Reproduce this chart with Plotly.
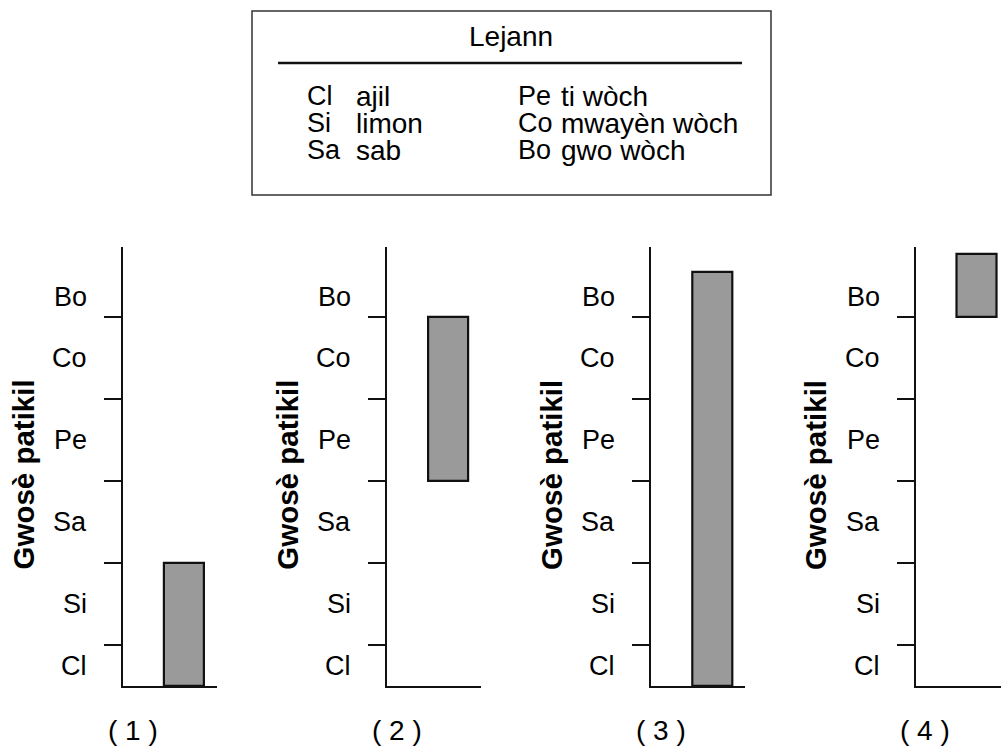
import plotly.graph_objects as go

# ---- data ----
classes = ["Cl", "Si", "Sa", "Pe", "Co", "Bo"]
class_names = ["ajil", "limon", "sab", "ti wòch", "mwayèn wòch", "gwo wòch"]
label_pos = [0.25, 1, 2, 3, 4, 4.75]        # where class labels sit on the size scale
boundaries = [0.5, 1.5, 2.5, 3.5, 4.5]      # class boundaries (tick marks)
panels = ["( 1 )", "( 2 )", "( 3 )", "( 4 )"]
bar_bottom = [0, 2.5, 0, 4.5]
bar_top = [1.5, 4.5, 5.05, 5.27]
y_title = "Gwosè patikil"
legend_title = "Lejann"

W, H = 1001, 748
FONT = "Liberation Sans, Arial, sans-serif"


def px_x(x):
    return x / W


def px_y(y):
    return 1 - y / H


fig = go.Figure()

axis0 = 123.0
step = 264.2
panel_w = 94.0
y_bot_px, y_top_px = 686.0, 247.0
unit = 82.0
y_max = (y_bot_px - y_top_px) / unit

annotations = []
for i in range(4):
    ax_px = axis0 + step * i
    right_px = min(ax_px + panel_w, W)
    xr = (right_px - ax_px) / panel_w
    sfx = "" if i == 0 else str(i + 1)
    fig.add_trace(go.Bar(
        x=[0.65], y=[bar_top[i] - bar_bottom[i]], base=[bar_bottom[i]],
        width=0.43,
        marker=dict(color="#9a9a9a", line=dict(color="#111111", width=2.2)),
        xaxis="x" + sfx, yaxis="y" + sfx, showlegend=False, hoverinfo="skip",
    ))
    fig.layout["xaxis" + sfx] = dict(
        domain=[px_x(ax_px), px_x(right_px)], range=[0, xr], anchor="y" + sfx,
        showline=True, linecolor="#111111", linewidth=2, showgrid=False,
        zeroline=False, showticklabels=False, ticks="", fixedrange=True,
    )
    fig.layout["yaxis" + sfx] = dict(
        domain=[px_y(y_bot_px), px_y(y_top_px)], range=[0, y_max], anchor="x" + sfx,
        showline=True, linecolor="#111111", linewidth=2, showgrid=False,
        zeroline=False, tickmode="array", tickvals=boundaries,
        ticktext=[""] * len(boundaries), ticks="outside", ticklen=17,
        tickwidth=2, tickcolor="#111111", fixedrange=True,
    )
    # class labels
    for c, p in zip(classes, label_pos):
        annotations.append(dict(
            text=c, xref="paper", yref="y" + sfx, x=px_x(ax_px - 34), y=p,
            xanchor="right", yanchor="middle", showarrow=False,
            font=dict(family=FONT, size=27, color="#000000"),
        ))
    # y title
    annotations.append(dict(
        text="<b>" + y_title + "</b>", xref="paper", yref="paper",
        x=px_x(ax_px - 100.5), y=px_y(475), textangle=-90,
        xanchor="center", yanchor="middle", showarrow=False,
        font=dict(family=FONT, size=29.5, color="#000000"),
    ))
    # panel label
    annotations.append(dict(
        text=panels[i], xref="paper", yref="paper",
        x=px_x(ax_px + 9.5), y=px_y(730), xanchor="center", yanchor="middle",
        showarrow=False, font=dict(family=FONT, size=28, color="#000000"),
    ))

# legend box
shapes = [
    dict(type="rect", xref="paper", yref="paper",
         x0=px_x(252), x1=px_x(771), y0=px_y(195), y1=px_y(11),
         line=dict(color="#333333", width=1.5)),
    dict(type="line", xref="paper", yref="paper",
         x0=px_x(278), x1=px_x(742), y0=px_y(63), y1=px_y(63),
         line=dict(color="#111111", width=2.5)),
]
annotations.append(dict(
    text=legend_title, xref="paper", yref="paper", x=px_x(511.5), y=px_y(37),
    xanchor="center", yanchor="middle", showarrow=False,
    font=dict(family=FONT, size=28, color="#000000"),
))
row_y = [96, 123, 150]
for k in range(6):
    col = k // 3
    r = k % 3
    code_x = 305 if col == 0 else 516
    name_x = 354 if col == 0 else 559
    annotations.append(dict(
        text=classes[k], xref="paper", yref="paper", x=px_x(code_x), y=px_y(row_y[r]),
        xanchor="left", yanchor="middle", showarrow=False,
        font=dict(family=FONT, size=27, color="#000000"),
    ))
    annotations.append(dict(
        text=class_names[k], xref="paper", yref="paper", x=px_x(name_x), y=px_y(row_y[r]),
        xanchor="left", yanchor="middle", showarrow=False,
        font=dict(family=FONT, size=28, color="#000000"),
    ))

fig.update_layout(
    width=W, height=H, autosize=False,
    margin=dict(l=0, r=0, t=0, b=0),
    paper_bgcolor="white", plot_bgcolor="white",
    annotations=annotations, shapes=shapes, showlegend=False,
    bargap=0,
)

fig.write_html(
    "out.html",
    config={"displayModeBar": False},
    post_script="document.body.style.margin='0';document.body.style.padding='0';",
)
